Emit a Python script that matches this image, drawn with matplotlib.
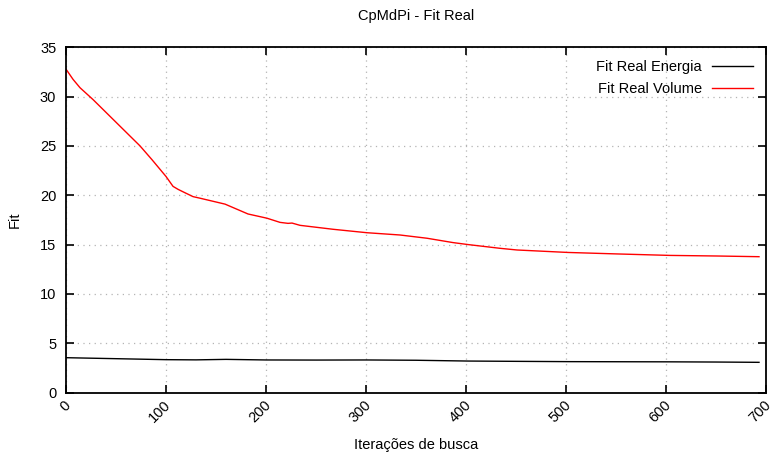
import matplotlib
matplotlib.use("Agg")
import matplotlib.pyplot as plt
import matplotlib.transforms as mtransforms

plt.rcParams['font.family'] = ['Liberation Sans', 'DejaVu Sans']

# Fit Real Volume (red)
vol_x = [0, 7, 14, 27, 50, 74, 86, 100, 107, 112, 118, 127, 134, 159, 182, 194, 201, 214,
         222, 226, 234, 267, 301, 334, 361, 387, 402, 434, 451, 502, 551, 604, 651, 693]
vol_y = [32.78, 31.75, 30.9, 29.7, 27.4, 25.0, 23.6, 21.9, 20.9, 20.6, 20.3, 19.86, 19.7,
         19.1, 18.1, 17.83, 17.67, 17.25, 17.15, 17.18, 16.95, 16.55, 16.2, 15.97, 15.64,
         15.2, 15.0, 14.62, 14.45, 14.2, 14.05, 13.9, 13.84, 13.77]

# Fit Real Energia (black)
ene_x = [0, 50, 100, 130, 160, 200, 250, 301, 350, 402, 450, 503, 550, 604, 650, 693]
ene_y = [3.53, 3.43, 3.33, 3.31, 3.36, 3.30, 3.29, 3.30, 3.27, 3.19, 3.16, 3.13, 3.12, 3.11,
         3.09, 3.06]

xticks = [0, 100, 200, 300, 400, 500, 600, 700]
yticks = [0, 5, 10, 15, 20, 25, 30, 35]

fs = 10.5

fig = plt.figure(figsize=(7.75, 4.66), dpi=100)
ax = fig.add_axes([0.0852, 0.1577, 0.9032, 0.7408])

ax.plot(ene_x, ene_y, color='black', lw=1.0, label='Fit Real Energia')
ax.plot(vol_x, vol_y, color='red', lw=1.0, label='Fit Real Volume')

ax.set_xlim(0, 700)
ax.set_ylim(0, 35)
ax.set_xticks(xticks)
ax.set_yticks(yticks)
ax.set_xticklabels([str(t) for t in xticks], rotation=45, ha='right', va='center',
                   rotation_mode='anchor')
ax.tick_params(direction='in', length=6, width=1.2, top=True, right=True,
               labelsize=fs, pad=7)
ax.tick_params(axis='x', pad=7.5)
shift = mtransforms.ScaledTranslation(2 / 72, 0, fig.dpi_scale_trans)
for lbl in ax.get_xticklabels():
    lbl.set_transform(lbl.get_transform() + shift)
for s in ax.spines.values():
    s.set_linewidth(1.3)

ax.grid(True, color='#b4b4b4', linestyle=(0, (1, 3.5)), linewidth=0.9)

ax.set_xlabel('Iterações de busca', fontsize=fs, labelpad=9.5)
ax.set_ylabel('Fit', fontsize=fs, labelpad=13)
ax.set_title('CpMdPi - Fit Real', fontsize=fs, pad=20)

leg = ax.legend(loc='upper right', frameon=False, markerfirst=False, fontsize=fs,
                handlelength=2.8, handletextpad=0.7, labelspacing=0.5,
                borderaxespad=0.5)
for t in leg.get_texts():
    t.set_ha('right')
leg._legend_box.align = 'right'

fig.savefig('out.png', dpi=100)
